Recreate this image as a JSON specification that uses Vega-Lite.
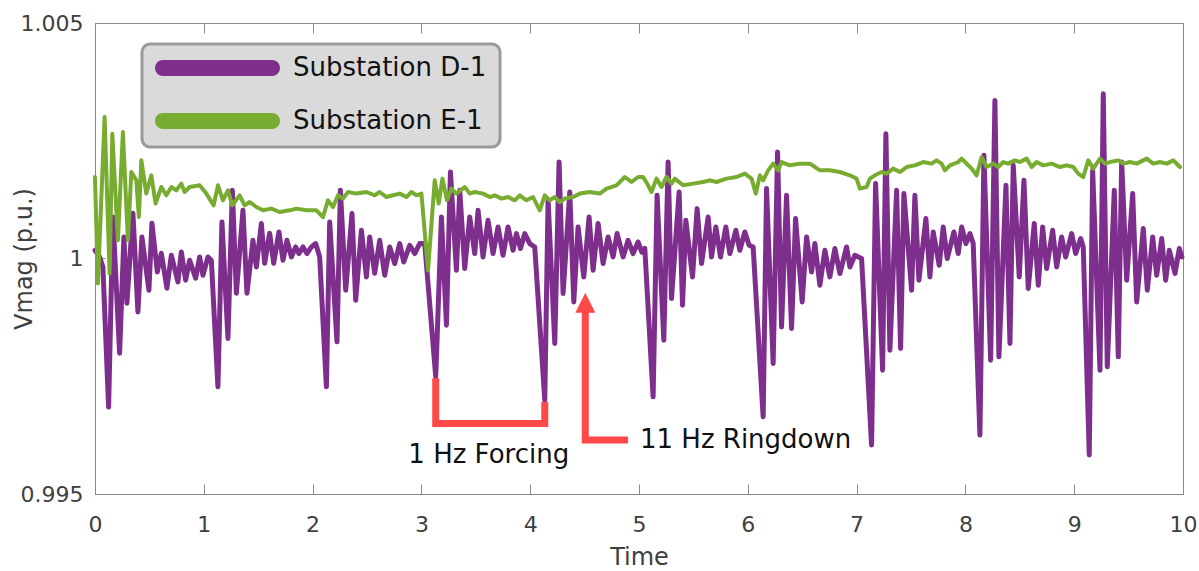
{
  "$schema": "https://vega.github.io/schema/vega-lite/v6.json",
  "width": 1088,
  "height": 471,
  "autosize": {"type": "none"},
  "padding": {"left": 95, "top": 23, "right": 16, "bottom": 77},
  "background": "white",
  "config": {
    "font": "DejaVu Sans",
    "view": {"stroke": "#8a8a8a", "strokeWidth": 1},
    "legend": {"strokeWidth": 3},
    "axis": {
      "domainColor": "#8a8a8a", "tickColor": "#8a8a8a", "labelColor": "#404040", "titleColor": "#404040",
      "labelFont": "DejaVu Sans", "titleFont": "DejaVu Sans", "labelFontSize": 22, "titleFontSize": 24,
      "titleFontWeight": "normal", "grid": false, "tickSize": -10, "domainWidth": 1, "tickWidth": 1
    }
  },
  "datasets": {
    "d1": [
      {"t":0,"v":1.000175},{"t":0.0423,"v":1.000033},{"t":0.0726,"v":0.999821},{"t":0.125,"v":0.996845},{"t":0.1646,"v":1.000881},{"t":0.2262,"v":0.99799},{"t":0.2657,"v":1.000457},{"t":0.2933,"v":0.999051},{"t":0.3485,"v":1.00096},{"t":0.3944,"v":0.998866},{"t":0.4312,"v":1.000457},{"t":0.4956,"v":0.999327},{"t":0.5232,"v":1.000748},{"t":0.5728,"v":0.999715},{"t":0.6096,"v":1.000111},{"t":0.6611,"v":0.999369},{"t":0.7015,"v":1.000069},{"t":0.7622,"v":0.999503},{"t":0.7935,"v":1.000139},{"t":0.833,"v":0.999539},{"t":0.8698,"v":0.999963},{"t":0.925,"v":0.999581},{"t":0.9617,"v":1.000033},{"t":0.9921,"v":0.999645},{"t":1.0381,"v":1.000033},{"t":1.0693,"v":0.999963},
      {"t":1.13,"v":0.997276},{"t":1.1668,"v":1.000775},{"t":1.222,"v":0.998302},{"t":1.2624,"v":1.001448},{"t":1.2992,"v":0.999263},{"t":1.3599,"v":1.001023},{"t":1.3967,"v":0.999263},{"t":1.4518,"v":1.000387},{"t":1.4831,"v":0.999821},{"t":1.5291,"v":1.000741},{"t":1.5594,"v":0.999899},{"t":1.6054,"v":1.000536},{"t":1.6422,"v":0.999899},{"t":1.6909,"v":1.000563},{"t":1.7277,"v":0.999963},{"t":1.7644,"v":1.000387},{"t":1.8049,"v":1.000033},{"t":1.8444,"v":1.000245},{"t":1.8748,"v":1.000105},{"t":1.9115,"v":1.000245},{"t":1.9483,"v":1.000105},{"t":1.9888,"v":1.000245},{"t":2.0283,"v":1.000317},{"t":2.0651,"v":1.000033},
      {"t":2.1267,"v":0.997276},{"t":2.157,"v":1.000775},{"t":2.2242,"v":0.99823},{"t":2.2554,"v":1.001448},{"t":2.3042,"v":0.999327},{"t":2.362,"v":1.000953},{"t":2.3961,"v":0.999114},{"t":2.4485,"v":1.000599},{"t":2.4945,"v":0.999609},{"t":2.5248,"v":1.000457},{"t":2.5708,"v":0.999687},{"t":2.6168,"v":1.000387},{"t":2.6628,"v":0.999645},{"t":2.7087,"v":1.000245},{"t":2.7547,"v":0.999893},{"t":2.8007,"v":1.000317},{"t":2.8375,"v":0.999927},{"t":2.8926,"v":1.000281},{"t":2.9386,"v":1.000105},{"t":2.9846,"v":1.000317},{"t":3.0306,"v":1.000317},
      {"t":3.1317,"v":0.997488},{"t":3.1841,"v":1.000881},{"t":3.2301,"v":0.998584},{"t":3.2669,"v":1.001836},{"t":3.322,"v":0.999751},{"t":3.3524,"v":1.001448},{"t":3.3983,"v":0.999787},{"t":3.4443,"v":1.000881},{"t":3.4903,"v":1.000105},{"t":3.5206,"v":1.001023},{"t":3.5666,"v":1.000033},{"t":3.6126,"v":1.000811},{"t":3.6585,"v":1.000105},{"t":3.7045,"v":1.000669},{"t":3.7505,"v":1.000069},{"t":3.7965,"v":1.000669},{"t":3.8424,"v":1.000175},{"t":3.8737,"v":1.000529},{"t":3.9105,"v":1.000211},{"t":3.95,"v":1.000529},{"t":3.996,"v":1.000317},{"t":4.0419,"v":1.000245},
      {"t":4.1339,"v":0.996993},{"t":4.1643,"v":1.001235},{"t":4.2259,"v":0.998196},{"t":4.2654,"v":1.002048},{"t":4.3022,"v":0.999257},{"t":4.3638,"v":1.001412},{"t":4.4006,"v":0.999078},{"t":4.4401,"v":1.000669},{"t":4.4925,"v":0.999609},{"t":4.5412,"v":1.000881},{"t":4.578,"v":0.999751},{"t":4.624,"v":1.000741},{"t":4.67,"v":0.999893},{"t":4.7159,"v":1.000457},{"t":4.7619,"v":1.000033},{"t":4.7987,"v":1.000529},{"t":4.8538,"v":1.000033},{"t":4.8998,"v":1.000387},{"t":4.9458,"v":1.000105},{"t":4.9917,"v":1.000351},{"t":5.0258,"v":1.000133},{"t":5.0533,"v":1.000217},
      {"t":5.1296,"v":0.997063},{"t":5.1664,"v":1.001342},{"t":5.228,"v":0.998266},{"t":5.2675,"v":1.002048},{"t":5.2988,"v":0.999151},{"t":5.3687,"v":1.001412},{"t":5.3999,"v":0.999008},{"t":5.4303,"v":1.000811},{"t":5.4919,"v":0.999609},{"t":5.5342,"v":1.001059},{"t":5.5747,"v":0.999893},{"t":5.6354,"v":1.000881},{"t":5.6666,"v":1.000033},{"t":5.7062,"v":1.000669},{"t":5.7494,"v":1.000033},{"t":5.7981,"v":1.000669},{"t":5.8349,"v":1.000105},{"t":5.8901,"v":1.000599},{"t":5.9268,"v":1.000175},{"t":5.9728,"v":1.000563},{"t":6.0124,"v":1.000281},{"t":6.0491,"v":1.000245},
      {"t":6.1411,"v":0.996639},{"t":6.1723,"v":1.001484},{"t":6.233,"v":0.997772},{"t":6.2735,"v":1.00226},{"t":6.3102,"v":0.998548},{"t":6.3562,"v":1.001342},{"t":6.4022,"v":0.998514},{"t":6.439,"v":1.000847},{"t":6.4997,"v":0.999078},{"t":6.5401,"v":1.000457},{"t":6.5861,"v":0.999715},{"t":6.6164,"v":1.000317},{"t":6.6624,"v":0.999433},{"t":6.7084,"v":1.000175},{"t":6.7543,"v":0.999609},{"t":6.8003,"v":1.000211},{"t":6.8463,"v":0.999681},{"t":6.9079,"v":1.000245},{"t":6.9383,"v":0.999821},{"t":6.9842,"v":1.000069},{"t":7.0458,"v":0.999999},
      {"t":7.1377,"v":0.996039},{"t":7.1745,"v":1.00159},{"t":7.2389,"v":0.99763},{"t":7.2692,"v":1.00265},{"t":7.306,"v":0.998054},{"t":7.3676,"v":1.001448},{"t":7.4044,"v":0.99809},{"t":7.4347,"v":1.001378},{"t":7.5055,"v":0.999327},{"t":7.5359,"v":1.001342},{"t":7.5726,"v":0.999539},{"t":7.637,"v":1.000847},{"t":7.6738,"v":0.999609},{"t":7.7041,"v":1.000563},{"t":7.7593,"v":0.999857},{"t":7.7961,"v":1.000669},{"t":7.8328,"v":0.999999},{"t":7.8944,"v":1.000563},{"t":7.934,"v":1.000105},{"t":7.9652,"v":1.000669},{"t":8.0048,"v":1.000317},{"t":8.0416,"v":1.000529},{"t":8.0719,"v":1.000317},
      {"t":8.1335,"v":0.996251},{"t":8.1703,"v":1.00219},{"t":8.2319,"v":0.997842},{"t":8.2714,"v":1.003356},{"t":8.3082,"v":0.997912},{"t":8.3726,"v":1.001554},{"t":8.4094,"v":0.998196},{"t":8.4397,"v":1.001978},{"t":8.4949,"v":0.999609},{"t":8.5381,"v":1.00166},{"t":8.5776,"v":0.999363},{"t":8.6328,"v":1.000741},{"t":8.6696,"v":0.999433},{"t":8.71,"v":1.000669},{"t":8.7468,"v":0.999787},{"t":8.802,"v":1.000599},{"t":8.8388,"v":0.999821},{"t":8.8847,"v":1.000457},{"t":8.9215,"v":1.000033},{"t":8.9767,"v":1.000529},{"t":9.0134,"v":1.000105},{"t":9.0594,"v":1.000423},{"t":9.0833,"v":1.000245},
      {"t":9.1385,"v":0.995827},{"t":9.1697,"v":1.001872},{"t":9.2369,"v":0.99763},{"t":9.2672,"v":1.003499},{"t":9.304,"v":0.9977},{"t":9.3684,"v":1.001448},{"t":9.4051,"v":0.997912},{"t":9.4364,"v":1.002048},{"t":9.4824,"v":0.999539},{"t":9.5375,"v":1.001378},{"t":9.5743,"v":0.999078},{"t":9.635,"v":1.000635},{"t":9.6718,"v":0.999327},{"t":9.7214,"v":1.000457},{"t":9.7582,"v":0.999645},{"t":9.8042,"v":1.000423},{"t":9.841,"v":0.999539},{"t":9.8741,"v":1.000175},{"t":9.9265,"v":0.999681},{"t":9.966,"v":1.000211},{"t":9.99,"v":1.000033}
    ],
    "e1": [
      {"t":0,"v":1.00173},{"t":0.0267,"v":0.999469},{"t":0.0883,"v":1.003002},{"t":0.1342,"v":0.999681},{"t":0.1591,"v":1.00265},{"t":0.2106,"v":1.000387},{"t":0.2565,"v":1.002684},{"t":0.3025,"v":1.000387},{"t":0.3338,"v":1.001836},{"t":0.3797,"v":1.00166},{"t":0.4036,"v":1.000881},{"t":0.4257,"v":1.002084},{"t":0.4717,"v":1.001378},{"t":0.5176,"v":1.001766},{"t":0.5572,"v":1.001166},{"t":0.6096,"v":1.001518},{"t":0.6556,"v":1.001342},{"t":0.7015,"v":1.001518},{"t":0.7475,"v":1.001448},{"t":0.7935,"v":1.00159},{"t":0.8238,"v":1.001412},{"t":0.8698,"v":1.001518},{"t":0.9617,"v":1.001554},{"t":1.0234,"v":1.001378},{"t":1.0905,"v":1.001129},{"t":1.13,"v":1.001554},{"t":1.176,"v":1.001235},{"t":1.222,"v":1.001448},{"t":1.2624,"v":1.001129},{"t":1.3295,"v":1.001342},{"t":1.3755,"v":1.001129},{"t":1.4215,"v":1.001199},{"t":1.4831,"v":1.001093},{"t":1.5438,"v":1.001023},{"t":1.621,"v":1.001059},{"t":1.6973,"v":1.000987},{"t":1.7893,"v":1.001023},{"t":1.8509,"v":1.001059},{"t":1.9428,"v":1.001023},{"t":2.0348,"v":1.001023},{"t":2.0954,"v":1.000881},{"t":2.1414,"v":1.001235},{"t":2.1874,"v":1.001093},{"t":2.2334,"v":1.001342},{"t":2.2793,"v":1.001272},{"t":2.3253,"v":1.001412},{"t":2.4025,"v":1.001378},{"t":2.4945,"v":1.001412},{"t":2.5708,"v":1.001342},{"t":2.6168,"v":1.001412},{"t":2.6784,"v":1.001305},{"t":2.7391,"v":1.001342},{"t":2.8007,"v":1.001378},{"t":2.8623,"v":1.001305},{"t":2.9082,"v":1.001412},{"t":2.9542,"v":1.001342},{"t":3.0002,"v":1.001378},
      {"t":3.0609,"v":0.999751},{"t":3.1225,"v":1.00166},{"t":3.1593,"v":1.001166},{"t":3.1933,"v":1.001696},{"t":3.2356,"v":1.001235},{"t":3.276,"v":1.001484},{"t":3.322,"v":1.001378},{"t":3.3983,"v":1.001518},{"t":3.4443,"v":1.001378},{"t":3.4903,"v":1.001412},{"t":3.5666,"v":1.001378},{"t":3.6282,"v":1.001305},{"t":3.6742,"v":1.001342},{"t":3.7358,"v":1.001272},{"t":3.7965,"v":1.001305},{"t":3.858,"v":1.001235},{"t":3.904,"v":1.001342},{"t":3.9656,"v":1.001235},{"t":4.0263,"v":1.001305},{"t":4.0879,"v":1.001023},{"t":4.1339,"v":1.001342},{"t":4.1798,"v":1.001235},{"t":4.2258,"v":1.001305},{"t":4.2718,"v":1.001199},{"t":4.3178,"v":1.001272},{"t":4.3941,"v":1.001305},{"t":4.4557,"v":1.001378},{"t":4.5476,"v":1.001412},{"t":4.6396,"v":1.001378},{"t":4.7012,"v":1.001484},{"t":4.7931,"v":1.001554},{"t":4.8694,"v":1.00173},{"t":4.931,"v":1.001624},{"t":4.9917,"v":1.00173},{"t":5.0377,"v":1.00173},{"t":5.0837,"v":1.001554},{"t":5.1149,"v":1.001412},{"t":5.1609,"v":1.001696},{"t":5.2069,"v":1.001518},{"t":5.2529,"v":1.00173},{"t":5.2988,"v":1.00159},{"t":5.3292,"v":1.001696},{"t":5.4055,"v":1.001554},{"t":5.4975,"v":1.00159},{"t":5.5894,"v":1.001624},{"t":5.651,"v":1.00166},{"t":5.7126,"v":1.001624},{"t":5.8045,"v":1.001696},{"t":5.8965,"v":1.00173},{"t":5.9728,"v":1.001802},{"t":6.0344,"v":1.001696},{"t":6.0739,"v":1.001378},{"t":6.1107,"v":1.001766},{"t":6.1411,"v":1.00166},{"t":6.187,"v":1.001872},{"t":6.233,"v":1.002014},{"t":6.279,"v":1.001872},{"t":6.3102,"v":1.002048},{"t":6.3866,"v":1.001978},{"t":6.4785,"v":1.002014},{"t":6.5705,"v":1.002014},{"t":6.6624,"v":1.001872},{"t":6.7543,"v":1.001872},{"t":6.8463,"v":1.001836},{"t":6.9383,"v":1.001766},{"t":6.9999,"v":1.001696},{"t":7.0302,"v":1.001484},{"t":7.0918,"v":1.001518},{"t":7.1221,"v":1.001696},{"t":7.1681,"v":1.001766},{"t":7.2297,"v":1.001836},{"t":7.2757,"v":1.001802},{"t":7.3364,"v":1.001908},{"t":7.398,"v":1.001836},{"t":7.4596,"v":1.001942},{"t":7.5359,"v":1.001978},{"t":7.6122,"v":1.002048},{"t":7.6895,"v":1.002014},{"t":7.7354,"v":1.002084},{"t":7.7814,"v":1.002014},{"t":7.8117,"v":1.001872},{"t":7.8577,"v":1.001978},{"t":7.934,"v":1.002048},{"t":7.9652,"v":1.00212},{"t":8.0112,"v":1.002014},{"t":8.0572,"v":1.001908},{"t":8.1032,"v":1.001766},{"t":8.1491,"v":1.002154},{"t":8.1951,"v":1.001942},{"t":8.2558,"v":1.002014},{"t":8.3018,"v":1.001942},{"t":8.3477,"v":1.002048},{"t":8.3937,"v":1.002014},{"t":8.4553,"v":1.002084},{"t":8.5013,"v":1.002048},{"t":8.5629,"v":1.00212},{"t":8.6089,"v":1.001942},{"t":8.6548,"v":1.002048},{"t":8.7155,"v":1.001978},{"t":8.7928,"v":1.002014},{"t":8.8691,"v":1.001942},{"t":8.9307,"v":1.001978},{"t":8.9914,"v":1.001942},{"t":9.0373,"v":1.001802},{"t":9.0833,"v":1.00173},{"t":9.1293,"v":1.002084},{"t":9.1753,"v":1.001908},{"t":9.2369,"v":1.00212},{"t":9.2828,"v":1.002014},{"t":9.3288,"v":1.002048},{"t":9.4051,"v":1.002084},{"t":9.4511,"v":1.002014},{"t":9.5127,"v":1.002048},{"t":9.5743,"v":1.002014},{"t":9.6663,"v":1.00212},{"t":9.727,"v":1.002014},{"t":9.7886,"v":1.002048},{"t":9.8502,"v":1.002014},{"t":9.9108,"v":1.002084},{"t":9.9724,"v":1.001942}
    ],
    "marks": [
      {"g":"bracket","o":1,"t":3.1317,"v":0.99746},{"g":"bracket","o":2,"t":3.1317,"v":0.996499},{"g":"bracket","o":3,"t":4.1339,"v":0.996499},{"g":"bracket","o":4,"t":4.1339,"v":0.996957},
      {"g":"arrow","o":1,"t":4.5063,"v":0.998881},{"g":"arrow","o":2,"t":4.5063,"v":0.996145},{"g":"arrow","o":3,"t":4.8998,"v":0.996145}
    ],
    "heads": [{"t":4.5063,"v":0.999061}],
    "notes": [
      {"t":3.619,"v":0.995657,"label":"1 Hz Forcing"},
      {"t":5.98,"v":0.995969,"label":"11 Hz Ringdown"}
    ]
  },
  "layer": [
    {
      "data": {"name": "d1"},
      "mark": {"type": "line", "strokeWidth": 5, "strokeJoin": "round", "strokeCap": "round"},
      "encoding": {
        "x": {"field": "t", "type": "quantitative", "scale": {"domain": [0, 10], "nice": false, "zero": false},
          "axis": {"orient": "bottom", "values": [0,1,2,3,4,5,6,7,8,9,10], "title": "Time", "labelFlush": false, "labelPadding": 30, "titleY": 70, "titleBaseline": "alphabetic"}},
        "y": {"field": "v", "type": "quantitative", "scale": {"domain": [0.995, 1.005], "nice": false, "zero": false},
          "axis": {"orient": "left", "values": [0.995, 1, 1.005], "labelExpr": "datum.value == 1 ? '1' : format(datum.value, '.3f')", "title": "Vmag (p.u.)", "labelPadding": 22, "titleX": -64, "titleY": 235.5, "titleBaseline": "alphabetic", "titleAngle": 270, "titleAlign": "center"}},
        "color": {"datum": "Substation D-1", "type": "nominal",
          "scale": {"domain": ["Substation D-1", "Substation E-1"], "range": ["#7E2F8E", "#77AC30"]},
          "legend": {
            "title": null, "orient": "none", "direction": "vertical", "legendX": 47, "legendY": 21,
            "fillColor": "#dadada", "strokeColor": "#9a9a9a", "cornerRadius": 8, "padding": 13,
            "symbolType": "stroke", "symbolSize": 11881, "symbolStrokeWidth": 16, "symbolOpacity": 1,
            "labelFont": "DejaVu Sans", "labelFontSize": 26, "labelColor": "#111111", "labelOffset": 13, "labelLimit": 400,
            "labelExpr": "datum.label + '\u00a0\u00a0\u00a0'",
            "clipHeight": 22, "rowPadding": 27,
            "encode": {"symbols": {"update": {"strokeCap": {"value": "round"}}}}
          }}
      }
    },
    {
      "data": {"name": "e1"},
      "mark": {"type": "line", "strokeWidth": 4, "strokeJoin": "round", "strokeCap": "round"},
      "encoding": {
        "x": {"field": "t", "type": "quantitative", "axis": null},
        "y": {"field": "v", "type": "quantitative", "axis": null},
        "color": {"datum": "Substation E-1", "type": "nominal"}
      }
    },
    {
      "data": {"values": [{"t": 0, "v": 0.995}, {"t": 10, "v": 1.005}]},
      "mark": {"type": "point", "opacity": 0},
      "encoding": {
        "x": {"field": "t", "type": "quantitative", "axis": {"orient": "top", "values": [0,1,2,3,4,5,6,7,8,9,10], "labels": false, "title": null}},
        "y": {"field": "v", "type": "quantitative", "axis": {"orient": "right", "values": [0.995, 1, 1.005], "labels": false, "title": null}}
      }
    },
    {
      "data": {"name": "marks"},
      "mark": {"type": "line", "strokeWidth": 7, "color": "#ff4848", "strokeJoin": "miter", "strokeCap": "butt"},
      "encoding": {
        "x": {"field": "t", "type": "quantitative", "axis": null},
        "y": {"field": "v", "type": "quantitative", "axis": null},
        "detail": {"field": "g"},
        "order": {"field": "o", "type": "quantitative"}
      }
    },
    {
      "data": {"name": "heads"},
      "mark": {"type": "point", "shape": "M0,-1L1,1L-1,1Z", "size": 400, "filled": true, "color": "#ff4848", "opacity": 1},
      "encoding": {
        "x": {"field": "t", "type": "quantitative", "axis": null},
        "y": {"field": "v", "type": "quantitative", "axis": null}
      }
    },
    {
      "data": {"name": "notes"},
      "mark": {"type": "text", "font": "DejaVu Sans", "fontSize": 26, "align": "center", "baseline": "alphabetic", "color": "#111111"},
      "encoding": {
        "x": {"field": "t", "type": "quantitative", "axis": null},
        "y": {"field": "v", "type": "quantitative", "axis": null},
        "text": {"field": "label"}
      }
    }
  ],
  "resolve": {"axis": {"x": "independent", "y": "independent"}}
}
